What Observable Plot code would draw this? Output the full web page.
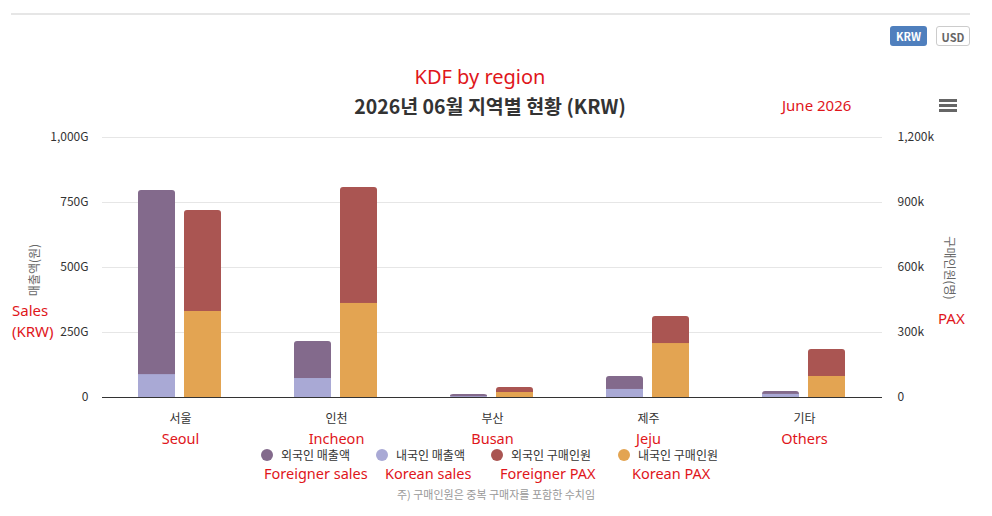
<!DOCTYPE html>
<html><head><meta charset="utf-8">
<script src="https://cdn.jsdelivr.net/npm/d3@7"></script>
<script src="https://cdn.jsdelivr.net/npm/@observablehq/plot@0.6"></script>
<style>
body{margin:0;background:#fff;font-family:"Noto Sans CJK KR","Noto Sans",sans-serif;}
#wrap{position:relative;width:992px;height:516px;overflow:hidden;}
.abs{position:absolute;white-space:nowrap;}
.red{color:#e0161b;}
#chart{position:absolute;left:0;top:0;}
.btn{position:absolute;top:26px;height:20px;border-radius:3px;font:bold 11px "Noto Sans CJK KR",sans-serif;line-height:20px;text-align:center;box-sizing:border-box;}
.leg{position:absolute;top:446px;font-size:12px;color:#333;display:flex;align-items:center;}
.leg i{display:inline-block;width:12px;height:12px;border-radius:50%;margin-right:8px;}
</style></head>
<body><div id="wrap">
<div class="abs" style="left:11px;top:13px;width:959px;height:2px;background:#e6e6e6"></div>
<div class="btn" style="left:890px;width:37px;background:#4f7fbd;color:#fff">KRW</div>
<div class="btn" style="left:936px;width:34px;border:1px solid #ccc;color:#666;background:#fff">USD</div>
<div class="abs red" style="left:0;width:960px;text-align:center;top:63px;font:20px 'Noto Sans','Open Sans',sans-serif;color:#e0161b">KDF by region</div>
<div class="abs" id="title" style="left:0;width:980px;text-align:center;top:91px;font:bold 19.5px 'Noto Sans CJK KR',sans-serif;color:#333"></div>
<div class="abs red" style="left:782px;top:95px;font:15px 'Noto Sans',sans-serif;color:#e0161b">June 2026</div>
<div class="abs" style="left:939px;top:99px;width:18px;height:3px;background:#666"></div>
<div class="abs" style="left:939px;top:104px;width:18px;height:3px;background:#666"></div>
<div class="abs" style="left:939px;top:109px;width:18px;height:3px;background:#666"></div>
<div class="abs" id="yl" style="left:33px;top:270px;transform:translate(-50%,-50%) rotate(-90deg);font-size:12px;color:#666"></div>
<div class="abs" id="yr" style="left:950px;top:268px;transform:translate(-50%,-50%) rotate(90deg);font-size:12px;color:#666"></div>
<div class="abs red" style="left:12px;top:300px;font:15px/21px 'Noto Sans',sans-serif;color:#e0161b">Sales<br>(KRW)</div>
<div class="abs red" style="left:938px;top:308px;font:15px 'Noto Sans',sans-serif;color:#e0161b">PAX</div>
<div id="chart"></div>
<div id="legend"></div>
<div class="abs" id="note" style="left:0;width:992px;text-align:center;top:486px;font-size:11px;color:#999"></div>
</div>
<script>
const regions = ["서울", "인천", "부산", "제주", "기타"];
const regionsEn = ["Seoul", "Incheon", "Busan", "Jeju", "Others"];
const foreignSales = [708, 142, 9, 50, 11];   // G KRW
const koreanSales = [88, 73, 3, 31, 12];      // G KRW
const foreignPax = [466, 535, 23, 125, 125];  // k persons
const koreanPax = [397, 434, 23, 249, 97];    // k persons
const seriesKo = ["외국인 매출액", "내국인 매출액", "외국인 구매인원", "내국인 구매인원"];
const seriesEn = ["Foreigner sales", "Korean sales", "Foreigner PAX", "Korean PAX"];
const colors = ["#836a8c", "#a9a9d5", "#aa5552", "#e3a452"];
const leftTicks = [0, 250, 500, 750, 1000];
const rightTicks = [0, 300, 600, 900, 1200];
const titleText = "2026년 06월 지역별 현황 (KRW)";
const leftLabel = "매출액(원)";
const rightLabel = "구매인원(명)";
const noteText = "주) 구매인원은 중복 구매자를 포함한 수치임";

document.getElementById("title").textContent = titleText;
document.getElementById("yl").textContent = leftLabel;
document.getElementById("yr").textContent = rightLabel;
document.getElementById("note").textContent = noteText;

const ratio = 1200 / 1000; // k PAX per G on shared scale
const rows = [];
regions.forEach((r, i) => {
  rows.push({region: r, grp: "sales", total: foreignSales[i] + koreanSales[i], bottom: koreanSales[i], top: colors[0], bot: colors[1]});
  rows.push({region: r, grp: "pax", total: (foreignPax[i] + koreanPax[i]) / ratio, bottom: koreanPax[i] / ratio, top: colors[2], bot: colors[3]});
});
const enOf = Object.fromEntries(regions.map((r, i) => [r, regionsEn[i]]));
const fmt = d3.format(",");

const plot = Plot.plot({
  width: 992, height: 450,
  marginTop: 137, marginBottom: 53, marginLeft: 102, marginRight: 110,
  style: {fontFamily: "'Noto Sans CJK KR', sans-serif", fontSize: "12px", color: "#333", background: "transparent"},
  fx: {domain: regions, paddingInner: 0, paddingOuter: 0, label: null},
  x: {domain: ["sales", "pax"], paddingInner: 0.19, paddingOuter: 0.755, axis: null},
  y: {domain: [0, 1000], axis: null},
  color: {type: "identity"},
  marks: [
    Plot.gridY(leftTicks, {stroke: "#e6e6e6", strokeOpacity: 1}),
    Plot.barY(rows, {fx: "region", x: "grp", y1: 0, y2: "total", fill: "top", rx: 3}),
    Plot.barY(rows, {fx: "region", x: "grp", y1: 0, y2: "bottom", fill: "bot"}),
    Plot.ruleY([0], {stroke: "#333", strokeWidth: 1}),
    Plot.axisY(leftTicks, {anchor: "left", tickSize: 0, tickPadding: 14, label: null, fill: "#333", fontSize: 12,
      tickFormat: d => d === 0 ? "0" : fmt(d) + "G"}),
    Plot.axisY(leftTicks, {anchor: "right", tickSize: 0, tickPadding: 15, label: null, fill: "#333", fontSize: 12,
      tickFormat: d => d === 0 ? "0" : fmt(d * ratio) + "k"}),
    Plot.axisFx({anchor: "bottom", tickSize: 0, tickPadding: 17, label: null, fill: "#333", fontSize: 12}),
    Plot.axisFx({anchor: "bottom", tickSize: 0, tickPadding: 36, label: null, fill: "#e0161b", fontSize: 14.5,
      fontFamily: "'Noto Sans', sans-serif", tickFormat: d => enOf[d]})
  ]
});
document.getElementById("chart").appendChild(plot);

const legendPos = [261, 376, 491, 618];
const enPos = [264, 385, 500, 632];
const leg = document.getElementById("legend");
seriesKo.forEach((s, i) => {
  const d = document.createElement("div");
  d.className = "leg";
  d.style.left = legendPos[i] + "px";
  d.innerHTML = `<i style="background:${colors[i]}"></i><span></span>`;
  d.querySelector("span").textContent = s;
  leg.appendChild(d);
  const e = document.createElement("div");
  e.className = "abs red";
  e.style.cssText = `left:${enPos[i]}px;top:463px;font:14.5px 'Noto Sans',sans-serif;color:#e0161b`;
  e.textContent = seriesEn[i];
  leg.appendChild(e);
});
</script>
</body></html>
